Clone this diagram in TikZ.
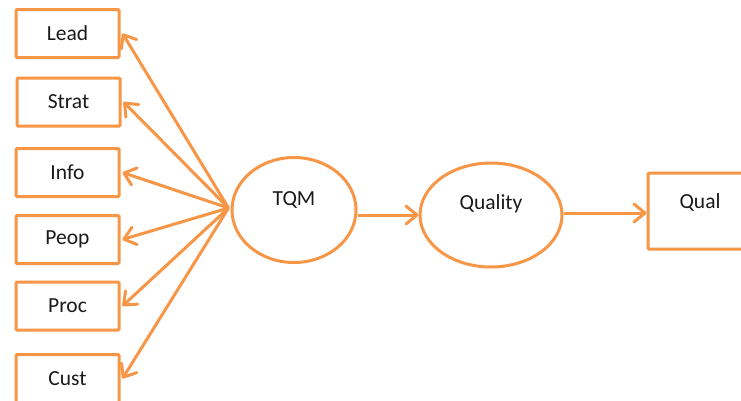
\documentclass[tikz,border=0pt]{standalone}
\usepackage{fontspec}
\setmainfont{Carlito}
\usetikzlibrary{arrows.meta,shapes.geometric}
\definecolor{accent}{HTML}{F79646}
\definecolor{ink}{HTML}{1A1A1A}
\tikzset{
  x=1pt, y=-1pt,
  every node/.style={font=\fontsize{21.5}{26}\selectfont, text=ink},
  itembox/.style={draw=accent, line width=3pt, rectangle, rounded corners=1pt,
    minimum width=103pt, minimum height=48pt, inner sep=0pt},
  construct/.style={draw=accent, line width=3pt, ellipse, inner sep=0pt},
  arr/.style={draw=accent, line width=3pt,
    -{Straight Barb[length=11pt,width=18pt,line cap=round,line join=round]}},
}
\begin{document}
\begin{tikzpicture}
\clip (0,0) rectangle (741,400);
\fill[white] (0,0) rectangle (741,400);

% indicator boxes
\node[itembox] (lead)  at (67.5,33.5)  {Lead};
\node[itembox] (strat) at (68.5,102)   {Strat};
\node[itembox] (info)  at (67.5,172.5) {Info};
\node[itembox] (peop)  at (67.5,239.5) {Peop};
\node[itembox] (proc)  at (67.5,306)   {Proc};
\node[itembox] (cust)  at (67.5,378.5) {Cust};

% latent constructs
\node[construct, minimum width=124pt, minimum height=105pt,
      label={[yshift=10pt]center:TQM}] (tqm) at (294,210) {};
\node[construct, minimum width=142pt, minimum height=104pt,
      label={[yshift=11pt]center:Quality}] (quality) at (491,215) {};

% outcome box
\node[itembox, minimum width=104pt, minimum height=76pt,
      label={[yshift=9pt]center:Qual}] (qual) at (700,211) {};

% TQM to its indicators
\coordinate (hub) at ([shift={(-2,-2)}]tqm.west);
\foreach \t in {lead,strat,info,peop,proc,cust}
  \draw[arr] (hub) -- ([xshift=2pt]\t.east);

% structural paths
\draw[arr] (tqm.east |- quality.west) -- (quality.west);
\draw[arr] ([yshift=2pt]quality.east) -- ([yshift=2pt]quality.east -| qual.west);
\end{tikzpicture}
\end{document}
